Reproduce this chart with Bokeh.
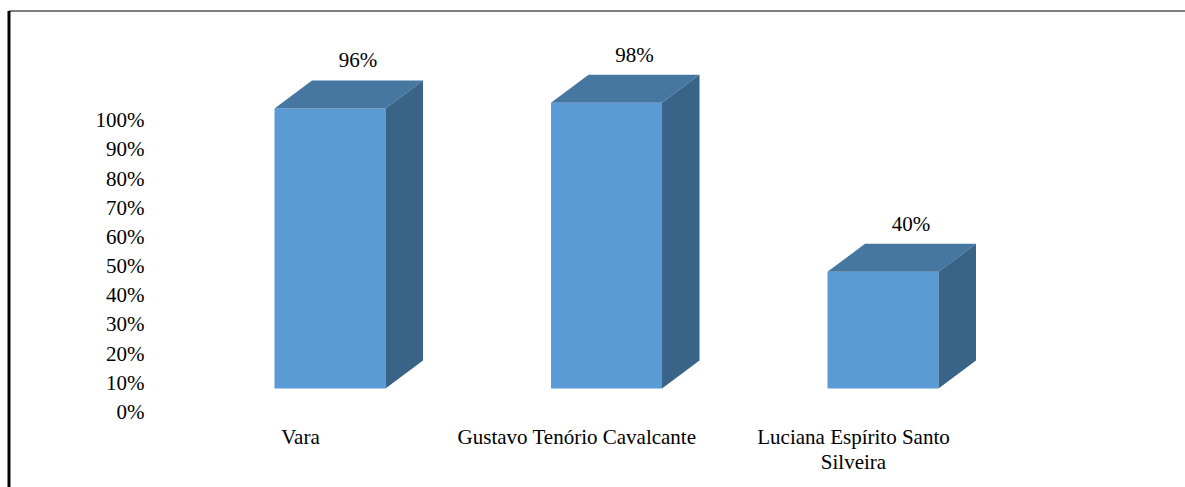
from bokeh.plotting import figure
from bokeh.embed import file_html
from bokeh.resources import INLINE
from bokeh.core.properties import value

# ---- data ----
categories = ["Vara", "Gustavo Tenório Cavalcante", "Luciana Espírito Santo\nSilveira"]
values = [96, 98, 40]
value_labels = ["96%", "98%", "40%"]
ticks = [0, 10, 20, 30, 40, 50, 60, 70, 80, 90, 100]
tick_labels = [f"{t}%" for t in ticks]

# ---- layout / style constants (pixels) ----
W, H = 1185, 487
PX_X = 276.5          # pixels per category step
PX_Y = 2.917          # pixels per percent
X0_PX = 329.5         # canvas x of first bar's front centre
Y0_PX = 388.0         # canvas y of the floor (0%) of the front faces
BAR_W = 111 / PX_X
DX = 37.5 / PX_X      # depth offset (x)
DY = 28.0 / PX_Y      # depth offset (y)

xs = -X0_PX / PX_X
xe = xs + W / PX_X
ye = Y0_PX / PX_Y
ys = (Y0_PX - H) / PX_Y

FONT = value("Liberation Serif")
FSIZE = "21px"

p = figure(width=W, height=H, x_range=(xs, xe), y_range=(ys, ye),
           x_axis_location=None, y_axis_location=None,
           toolbar_location=None, output_backend="svg", min_border=0)
p.outline_line_color = None
p.background_fill_color = "white"
p.border_fill_color = "white"
for g in p.grid:
    g.visible = False

xc = list(range(len(values)))
x_left = [x - BAR_W / 2 for x in xc]
x_right = [x + BAR_W / 2 for x in xc]

# front faces
p.quad(left=x_left, right=x_right, bottom=[0] * len(values), top=values,
       fill_color="#5B9BD5", line_color=None)

# top faces
top_xs = [[l, r, r + DX, l + DX] for l, r in zip(x_left, x_right)]
top_ys = [[v, v, v + DY, v + DY] for v in values]
p.patches(top_xs, top_ys, fill_color="#4677A1", line_color=None)

# side faces
side_xs = [[r, r, r + DX, r + DX] for r in x_right]
side_ys = [[0, v, v + DY, DY] for v in values]
p.patches(side_xs, side_ys, fill_color="#3A6388", line_color=None)

# value labels above bars
p.text(x=[x + 28 / PX_X for x in xc], y=[v + DY + 20 / PX_Y for v in values],
       text=value_labels, text_font=FONT, text_font_size=FSIZE,
       text_align="center", text_baseline="middle", text_color="black")

# y tick labels
p.text(x=[xs + 144 / PX_X] * len(ticks), y=[t - 23.5 / PX_Y for t in ticks],
       text=tick_labels, text_font=FONT, text_font_size=FSIZE,
       text_align="right", text_baseline="middle", text_color="black")

# category labels
p.text(x=[x - 29.5 / PX_X for x in xc], y=[-(36 / PX_Y)] * len(xc),
       text=categories, text_font=FONT, text_font_size=FSIZE,
       text_align="center", text_baseline="top", text_color="black",
       text_line_height=1.05)

# frame lines (left thick, top thin)
y_top_line = ye - 10.5 / PX_Y
x_left_line = xs + 8.5 / PX_X
p.segment(x0=[x_left_line], y0=[ys], x1=[x_left_line], y1=[y_top_line],
          line_color="black", line_width=3)
p.segment(x0=[x_left_line], y0=[y_top_line], x1=[xe], y1=[y_top_line],
          line_color="black", line_width=1)

open("out.html", "w").write(file_html(p, INLINE))
